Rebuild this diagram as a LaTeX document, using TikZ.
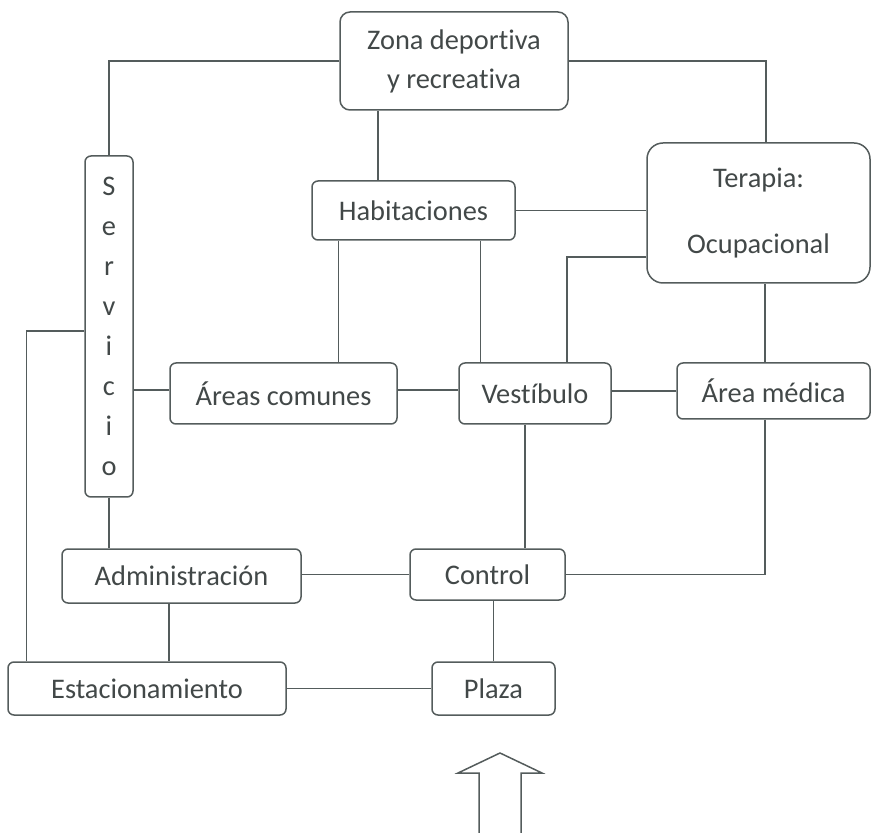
\documentclass[tikz,border=0pt]{standalone}
\usepackage{fontspec}
\setmainfont{Carlito}[Ligatures=NoCommon]
\usepackage{xcolor}
\usepackage{tikz}
\usetikzlibrary{positioning}

\definecolor{trazo}{RGB}{84,92,92}
\definecolor{letra}{RGB}{66,72,72}

\begin{document}
\begin{tikzpicture}[
  x=0.5pt, y=-0.5pt,
  caja/.style={draw=trazo, line width=0.75pt, rounded corners=3pt, inner sep=0pt,
               align=center, text=letra, font=\fontsize{14.2}{17}\selectfont},
  linea/.style={draw=trazo, line width=0.75pt}
]
  \useasboundingbox (0,0) rectangle (872,833);

  \node[caja, minimum width=114pt, minimum height=49pt, rounded corners=5pt,
        font=\fontsize{14.2}{19.5}\selectfont] (zona) at (454,61) {Zona deportiva\\y recreativa};
  \node[caja, minimum width=24pt, minimum height=170.5pt,
        font=\fontsize{14.2}{20}\selectfont] (serv) at (109,326.5) {S\\e\\r\\v\\i\\c\\i\\o};
  \node[caja, minimum width=111.5pt, minimum height=70pt, rounded corners=8pt] (terapia) at (758.5,213) {Terapia:\\[16pt]Ocupacional};
  \node[caja, minimum width=101.5pt, minimum height=29.5pt] (hab) at (413.5,210.5) {Habitaciones};
  \node[caja, minimum width=113.5pt, minimum height=30.5pt] (areas) at (283.5,393.5) {Áreas comunes};
  \node[caja, minimum width=76pt, minimum height=30.5pt] (vest) at (535,393.5) {Vestíbulo};
  \node[caja, minimum width=96.5pt, minimum height=28pt] (medica) at (773.5,391) {Área médica};
  \node[caja, minimum width=119.5pt, minimum height=27pt] (adm) at (181.5,576) {Administración};
  \node[caja, minimum width=77.5pt, minimum height=25.5pt] (control) at (487.5,574.5) {Control};
  \node[caja, minimum width=139pt, minimum height=26.5pt] (estac) at (147,688.5) {Estacionamiento};
  \node[caja, minimum width=61.5pt, minimum height=26.5pt] (plaza) at (493.5,688.5) {Plaza};

  % conexiones
  \draw[linea] (zona.west) -| (serv.north);
  \draw[linea] (zona.east) -| ([xshift=3.75pt]terapia.north);
  \draw[linea] ([xshift=-17.75pt]hab.north) -- ([xshift=-17.75pt]hab.north |- zona.south);
  \draw[linea] (hab.east) -- (hab.east -| terapia.west);
  \draw[linea] ([xshift=13.5pt]hab.south west) -- ([xshift=13.5pt]hab.south west |- areas.north);
  \draw[linea] ([xshift=11pt]vest.north west) -- ([xshift=11pt]vest.north west |- hab.south);
  \draw[linea] ([yshift=-22pt]terapia.west) -| ([xshift=16pt]vest.north);
  \draw[linea] ([yshift=1.75pt]areas.west) -- ([yshift=1.75pt]areas.west -| serv.east);
  \draw[linea] ([yshift=1.75pt]areas.east) -- ([yshift=1.75pt]areas.east -| vest.west);
  \draw[linea] (medica.west) -- (medica.west -| vest.east);
  \draw[linea] ([xshift=-4.25pt]medica.north) -- ([xshift=-4.25pt]medica.north |- terapia.south);
  \draw[linea] ([yshift=-2.25pt]serv.west) -| ([xshift=9.5pt]estac.north west);
  \draw[linea] (serv.south) -- (serv.south |- adm.north);
  \draw[linea] (control.west) -- (control.west -| adm.east);
  \draw[linea] ([xshift=-6.25pt]adm.south) -- ([xshift=-6.25pt]adm.south |- estac.north);
  \draw[linea] ([xshift=-5pt]vest.south) -- ([xshift=-5pt]vest.south |- control.north);
  \draw[linea] ([xshift=-4.25pt]medica.south) |- (control.east);
  \draw[linea] (plaza.north) -- (plaza.north |- control.south);
  \draw[linea] (estac) -- (plaza);

  % flecha de acceso
  \coordinate (acceso) at (500,753);
  \draw[linea, line join=miter] (479,833) -- (479,773) -- (458,773) -- (acceso)
    -- (542,773) -- (521,773) -- (521,833);
\end{tikzpicture}
\end{document}
